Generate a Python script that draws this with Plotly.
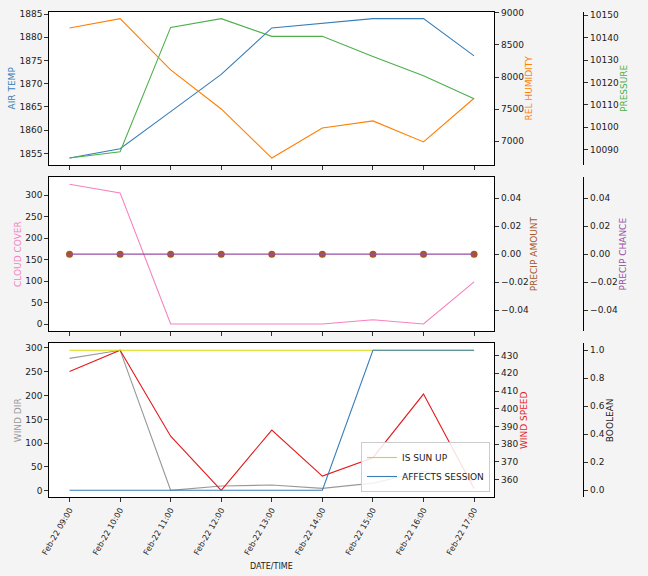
import plotly.graph_objects as go

times = ["2022-02-22 09:00", "2022-02-22 10:00", "2022-02-22 11:00", "2022-02-22 12:00",
         "2022-02-22 13:00", "2022-02-22 14:00", "2022-02-22 15:00", "2022-02-22 16:00",
         "2022-02-22 17:00"]
air_temp = [1854, 1856, 1864, 1872, 1882, 1883, 1884, 1884, 1876]
rel_humidity = [8762, 8907, 8110, 7503, 6740, 7208, 7317, 6990, 7670]
pressure = [10086.2, 10089, 10144.6, 10148.5, 10140.6, 10140.6, 10131.6, 10123, 10112.7]
cloud_cover = [325, 305, 0, 0, 0, 0, 10, 0, 98]
precip_amount = [0, 0, 0, 0, 0, 0, 0, 0, 0]
precip_chance = [0, 0, 0, 0, 0, 0, 0, 0, 0]
wind_dir = [278, 295, 1, 10, 12, 5, 16, 41, 20]
wind_speed = [421, 433, 384.5, 354, 388, 362, 372.4, 408.3, 355]
is_sun_up = [1, 1, 1, 1, 1, 1, 1, 1, 1]
affects_session = [0, 0, 0, 0, 0, 0, 1, 1, 1]

C_BLUE = "#377eb8"; C_ORANGE = "#ff7f00"; C_GREEN = "#4daf4a"; C_PINK = "#f781bf"
C_BROWN = "#a65628"; C_PURPLE = "#984ea3"; C_GRAY = "#999999"; C_RED = "#e41a1c"
C_YELLOW = "#d8d800"

W, H = 648, 576
def px_x(x): return x / W
def px_y(y): return 1 - y / H

def rng(vals, pad=0.05):
    lo, hi = min(vals), max(vals)
    if hi == lo:
        lo, hi = lo - 0.05, hi + 0.05
        return [lo - (hi - lo) * pad, hi + (hi - lo) * pad]
    d = (hi - lo) * pad
    return [lo - d, hi + d]

xdom = [px_x(49.3), px_x(494.3)]
dom1 = [px_y(165), px_y(11.7)]
dom2 = [px_y(331), px_y(177.3)]
dom3 = [px_y(497.3), px_y(343.3)]
free_pos = px_x(583.3)

FS = 9
font = dict(family="DejaVu Sans", size=FS, color="#222222")
xfont = dict(family="DejaVu Sans", size=8, color="#222222")
fig = go.Figure()

def line(x, y, color, yaxis, xaxis, name="", show=False, width=1.1):
    fig.add_trace(go.Scatter(x=x, y=y, mode="lines", line=dict(color=color, width=width),
                             xaxis=xaxis, yaxis=yaxis, name=name, showlegend=show))

line(times, air_temp, C_BLUE, "y", "x")
line(times, rel_humidity, C_ORANGE, "y2", "x")
line(times, pressure, C_GREEN, "y3", "x")
line(times, cloud_cover, C_PINK, "y4", "x2")
line(times, precip_chance, C_PURPLE, "y6", "x2", width=1.4)
fig.add_trace(go.Scatter(x=times, y=precip_amount, mode="markers",
                         marker=dict(color=C_BROWN, size=7), xaxis="x2", yaxis="y5",
                         showlegend=False))
line(times, wind_dir, C_GRAY, "y7", "x3")
line(times, wind_speed, C_RED, "y8", "x3")
line(times, is_sun_up, C_YELLOW, "y9", "x3", name="IS SUN UP", show=True)
line(times, affects_session, C_BLUE, "y9", "x3", name="AFFECTS SESSION", show=True)

xr = ["2022-02-22 08:36", "2022-02-22 17:24"]
xcommon = dict(domain=xdom, range=xr, type="date", showgrid=False, zeroline=False,
               showline=True, linecolor="black", linewidth=1, mirror=True,
               ticks="outside", ticklen=4, tickcolor="#333", dtick=3600000,
               tick0="2022-02-22 09:00", tickfont=xfont, automargin=False)

def tfont(color):
    return dict(family="DejaVu Sans", size=FS, color=color)

def yleft(title, color, r, dtick, dom, anchor, fmt=None):
    d = dict(domain=dom, range=r, anchor=anchor, showgrid=False, zeroline=False,
             showline=True, linecolor="black", linewidth=1, mirror=True,
             ticks="outside", ticklen=4, tickcolor="#333", dtick=dtick, tickfont=font,
             automargin=False, title=dict(text=title, font=tfont(color), standoff=2))
    if fmt: d["tickformat"] = fmt
    return d

def yright(title, color, r, dtick, over, anchor, fmt=None, standoff=2):
    d = dict(overlaying=over, side="right", anchor=anchor, range=r, showgrid=False,
             zeroline=False, showline=False, ticks="outside", ticklen=4, tickcolor="#333",
             dtick=dtick, tickfont=font, automargin=False,
             title=dict(text=title, font=tfont(color), standoff=standoff))
    if fmt: d["tickformat"] = fmt
    return d

def yfree(title, color, r, dtick, over, fmt=None, standoff=1):
    d = yright(title, color, r, dtick, over, "free", fmt, standoff)
    d.update(position=free_pos, showline=True, linecolor="black", linewidth=1)
    return d

fig.update_layout(
    width=W, height=H, margin=dict(l=0, r=0, t=0, b=0, autoexpand=False),
    paper_bgcolor="#f4f4f4", plot_bgcolor="white", font=font,
    xaxis=dict(xcommon, anchor="y", showticklabels=False),
    xaxis2=dict(xcommon, anchor="y4", showticklabels=False, matches="x"),
    xaxis3=dict(xcommon, anchor="y7", matches="x", tickformat="%b-%d %H:%M", tickangle=-60),
    yaxis=yleft("AIR TEMP", C_BLUE, rng(air_temp), 5, dom1, "x"),
    yaxis2=yright("REL HUMIDITY", C_ORANGE, rng(rel_humidity), 500, "y", "x"),
    yaxis3=yfree("PRESSURE", C_GREEN, rng(pressure), 10, "y", "d"),
    yaxis4=yleft("CLOUD COVER", C_PINK, rng(cloud_cover), 50, dom2, "x2"),
    yaxis5=yright("PRECIP AMOUNT", C_BROWN, rng(precip_amount), 0.02, "y4", "x2", ".2f"),
    yaxis6=yfree("PRECIP CHANCE", C_PURPLE, rng(precip_chance), 0.02, "y4", ".2f"),
    yaxis7=yleft("WIND DIR", C_GRAY, rng(wind_dir), 50, dom3, "x3"),
    yaxis8=yright("WIND SPEED", C_RED, rng(wind_speed), 10, "y7", "x3"),
    yaxis9=yfree("BOOLEAN", "#222222", rng(is_sun_up + affects_session), 0.2, "y7", ".1f"),
    legend=dict(x=px_x(490), xanchor="right", y=px_y(492), yanchor="bottom",
                bgcolor="rgba(255,255,255,0.85)", bordercolor="#cccccc", borderwidth=1,
                font=font, tracegroupgap=0, itemwidth=30),
    annotations=[dict(text="DATE/TIME", xref="paper", yref="paper",
                      x=(xdom[0] + xdom[1]) / 2, y=px_y(566), xanchor="center",
                      yanchor="middle", showarrow=False, font=xfont)],
)
fig.write_html("out.html", config={"displayModeBar": False})

with open("out.html", "r", encoding="utf-8") as f:
    html = f.read()
html = html.replace("<head>", "<head><style>html,body{margin:0;padding:0;overflow:hidden;background:#f4f4f4;}</style>", 1)
with open("out.html", "w", encoding="utf-8") as f:
    f.write(html)
